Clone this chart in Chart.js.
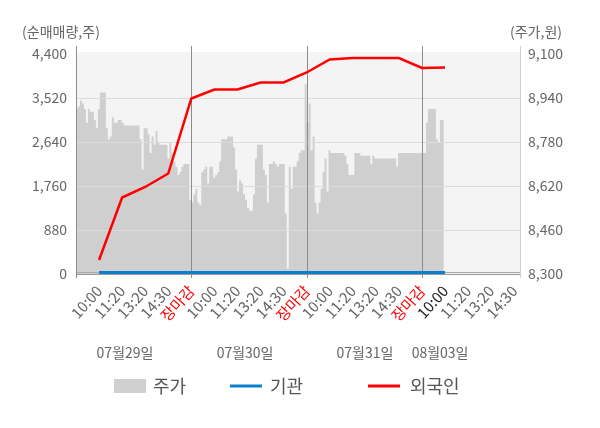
<!DOCTYPE html>
<html><head><meta charset="utf-8">
<script src="https://cdn.jsdelivr.net/npm/chart.js@4.4.0/dist/chart.umd.min.js"></script>
<style>html,body{margin:0;padding:0;background:#fff;}#wrap{position:relative;width:600px;height:428px;}</style>
</head><body><div id="wrap"><canvas id="c" width="600" height="428"></canvas></div>
<script>
const SAMPLES_PER_DAY = 58;
const DATES = ['07월29일', '07월30일', '07월31일', '08월03일'];
const TIME_LABELS = ['10:00', '11:20', '13:20', '14:30', '장마감'];
const LEFT_TICKS = [0, 880, 1760, 2640, 3520, 4400];
const RIGHT_TICKS = [8300, 8460, 8620, 8780, 8940, 9100];
const SERIES_NAMES = ['주가', '기관', '외국인'];
const AXIS_TITLES = ['(순매매량,주)', '(주가,원)'];

// 주가 (price, won) sampled through each trading day
const PRICE_0729 = [9000,8900,8910,8930,8920,8900,8850,8900,8890,8890,8860,8830,8900,8960,8960,8960,8830,8790,8800,8870,8850,8850,8860,8860,8850,8840,8840,8840,8840,8840,8840,8840,8840,8790,8680,8830,8830,8810,8740,8800,8770,8820,8780,8770,8770,8770,8770,8720,8780,8740,8710,8690,8660,8670,8690,8700,8700,8700];
const PRICE_0730 = [8570,8560,8590,8610,8560,8550,8670,8680,8690,8630,8690,8690,8650,8660,8670,8710,8790,8790,8790,8800,8800,8800,8760,8680,8600,8640,8630,8590,8570,8540,8530,8530,8590,8720,8770,8770,8770,8680,8660,8560,8700,8700,8710,8700,8690,8700,8700,8700,8520,8320,8690,8610,8690,8690,8710,8740,8750,8750];
const PRICE_0731 = [8990,8850,8920,8750,8800,8560,8520,8560,8610,8670,8720,8600,8750,8740,8740,8740,8740,8740,8740,8740,8730,8700,8660,8660,8660,8740,8740,8740,8730,8730,8730,8730,8730,8700,8730,8720,8720,8720,8720,8720,8720,8720,8720,8720,8720,8720,8690,8740,8740,8740,8740,8740,8740,8740,8740,8740,8740,8740];
const PRICE_0803 = [8740,8740,8740,8850,8900,8900,8900,8900,8790,8780,8860,8860];

// 순매매량 (net buying, shares) at 10:00, 11:20, 13:20, 14:30, 장마감
const FOREIGN = [280,1530,1740,2010,3510, 3690,3690,3830,3830,4030, 4290,4320,4320,4320,4120, 4130];
const INSTITUTION = [0,0,0,0,0, 0,0,0,0,0, 0,0,0,0,0, 0];

const PRICE = [].concat(PRICE_0729, PRICE_0730, PRICE_0731, PRICE_0803);
const pricePts = PRICE.map((v, i) => ({x: i / SAMPLES_PER_DAY, y: v}));
const flowPts = arr => arr.map((v, k) => ({x: (k + 1) / TIME_LABELS.length, y: v}));

const FONT = "'Noto Sans CJK KR', 'Noto Sans', sans-serif";
Chart.defaults.font.family = FONT;

const fmt = v => Number(v).toLocaleString('en-US');

const decor = {
  id: 'decor',
  beforeDatasetsDraw(chart) {
    const {ctx, chartArea: a} = chart;
    ctx.save();
    ctx.fillStyle = '#f4f4f4';
    ctx.fillRect(a.left, a.top - 2, a.right - a.left, a.bottom - a.top + 2);
    ctx.restore();
  },
  afterDatasetDraw(chart, args) {
    if (args.index !== 0) return;
    const {ctx, chartArea: a, scales} = chart;
    ctx.save();
    ctx.lineWidth = 1;
    ctx.strokeStyle = '#dcdcdc';
    LEFT_TICKS.forEach(t => {
      if (t === 0 || t === LEFT_TICKS[LEFT_TICKS.length - 1]) return;
      const y = Math.round(scales.y.getPixelForValue(t)) + 0.5;
      ctx.beginPath(); ctx.moveTo(a.left, y); ctx.lineTo(a.right, y); ctx.stroke();
    });
    ctx.strokeStyle = '#a8a8a8';
    let yb = Math.round(a.bottom) - 1.5;
    ctx.beginPath(); ctx.moveTo(a.left, yb); ctx.lineTo(a.right, yb); ctx.stroke();
    ctx.strokeStyle = '#999';
    yb = Math.round(a.bottom) + 0.5;
    ctx.beginPath(); ctx.moveTo(a.left, yb); ctx.lineTo(a.right, yb); ctx.stroke();
    ctx.strokeStyle = '#8c8c8c';
    [0, 1, 2, 3].forEach(d => {
      const x = Math.round(scales.x.getPixelForValue(d)) + 0.5;
      ctx.beginPath(); ctx.moveTo(x, a.top - 8); ctx.lineTo(x, a.bottom + 4); ctx.stroke();
    });
    ctx.strokeStyle = '#d0d0d0';
    const xr = Math.round(a.right) + 0.5;
    ctx.beginPath(); ctx.moveTo(xr, a.top - 8); ctx.lineTo(xr, a.bottom + 4); ctx.stroke();
    ctx.restore();
  },
  afterDraw(chart) {
    const {ctx, scales} = chart;
    ctx.save();
    ctx.fillStyle = '#666';
    ctx.font = '14px ' + FONT;
    ctx.textBaseline = 'middle';
    ctx.textAlign = 'center';
    ctx.fillText(AXIS_TITLES[0], 61, 32);
    ctx.fillText(AXIS_TITLES[1], 536, 32);
    const datePos = [0.425, 1.466, 2.506, 3.157];
    DATES.forEach((d, i) => ctx.fillText(d, scales.x.getPixelForValue(datePos[i]), 353));
    const ds = chart.data.datasets;
    const ly = 386;
    ctx.font = '18px ' + FONT;
    ctx.textAlign = 'left';
    ctx.fillStyle = ds[0].backgroundColor;
    ctx.fillRect(114, ly - 7, 32, 14);
    ctx.fillStyle = '#555';
    ctx.fillText(ds[0].label, 153, ly);
    [[1, 230, 270], [2, 368, 410]].forEach(([i, x0, tx]) => {
      ctx.strokeStyle = ds[i].borderColor;
      ctx.lineWidth = 3;
      ctx.beginPath(); ctx.moveTo(x0, ly); ctx.lineTo(x0 + 32, ly); ctx.stroke();
      ctx.fillStyle = '#555';
      ctx.fillText(ds[i].label, tx, ly);
    });
    ctx.restore();
  }
};

new Chart(document.getElementById('c'), {
  type: 'line',
  data: {
    datasets: [
      {label: SERIES_NAMES[0], data: pricePts, yAxisID: 'y2', fill: 'start', backgroundColor: '#cfcfcf',
       borderWidth: 0, pointRadius: 0, stepped: 'after', order: 3},
      {label: SERIES_NAMES[1], data: flowPts(INSTITUTION), yAxisID: 'y', borderColor: '#0a7fd0',
       borderWidth: 6, pointRadius: 0, fill: false, clip: 0, order: 1},
      {label: SERIES_NAMES[2], data: flowPts(FOREIGN), yAxisID: 'y', borderColor: '#ff0000',
       borderWidth: 2.5, pointRadius: 0, fill: false, order: 0}
    ]
  },
  options: {
    responsive: false, animation: false, devicePixelRatio: 1,
    layout: {padding: {top: 54, bottom: 74, left: 0, right: 0}},
    plugins: {legend: {display: false}, tooltip: {enabled: false}},
    scales: {
      x: {
        type: 'linear', min: 0, max: 3.85,
        grid: {display: false, drawTicks: false}, border: {display: false},
        afterBuildTicks: s => { s.ticks = []; for (let k = 1; k <= 19; k++) s.ticks.push({value: k / 5}); },
        afterFit: s => { s.height = 80; },
        ticks: {
          autoSkip: false, minRotation: 48, maxRotation: 48, padding: 8,
          font: {size: 15},
          color: c => { const k = Math.round(c.tick.value * 5); return k % 5 === 0 ? '#ff0000' : (k === 16 ? '#222' : '#666'); },
          callback: v => TIME_LABELS[(Math.round(v * 5) - 1) % TIME_LABELS.length]
        }
      },
      y: {
        position: 'left', min: 0, max: 4400,
        grid: {display: false, drawTicks: false}, border: {display: false},
        afterBuildTicks: s => { s.ticks = LEFT_TICKS.map(v => ({value: v})); },
        afterFit: s => { s.width = 76; },
        ticks: {padding: 9, color: '#666', font: {size: 14}, callback: fmt}
      },
      y2: {
        position: 'right', min: 8300, max: 9100,
        grid: {display: false, drawTicks: false}, border: {display: false},
        afterBuildTicks: s => { s.ticks = RIGHT_TICKS.map(v => ({value: v})); },
        afterFit: s => { s.width = 80; },
        ticks: {padding: 8, color: '#666', font: {size: 14}, callback: fmt}
      }
    }
  },
  plugins: [decor]
});
</script></body></html>
